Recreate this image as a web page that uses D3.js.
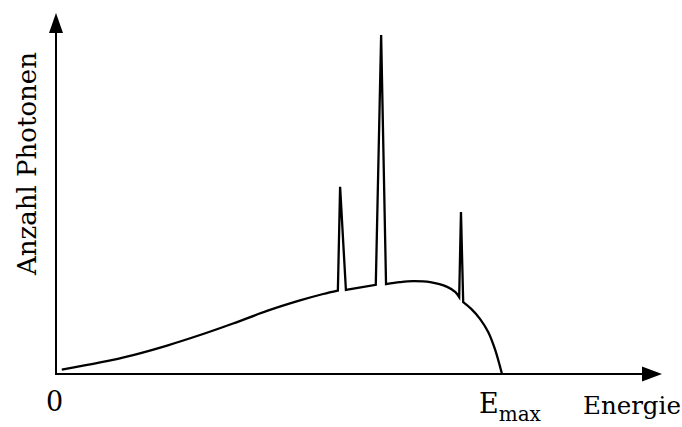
<!DOCTYPE html>
<html>
<head>
<meta charset="utf-8">
<script src="https://cdn.jsdelivr.net/npm/d3@7/dist/d3.min.js"></script>
<style>
  html, body { margin: 0; padding: 0; background: #fff; }
  svg { display: block; }
</style>
</head>
<body>
<svg id="chart" width="682" height="427"></svg>
<script>
// X-ray spectrum: bremsstrahlung continuum with three characteristic lines
const energies = [1.3, 9.9, 17.3, 24.9, 32.3, 39.7, 47.3, 54.7, 59.9, 63.2,
                  63.7, 65.0, 71.7, 72.9, 74.0, 77.1, 80.0, 83.9, 87.7, 89.5, 90.4,
                  90.8, 91.3, 93.1, 95.1, 96.9, 98.4, 100];
const counts   = [1.3, 3.4, 5.6, 8.4, 11.5, 14.9, 18.6, 21.7, 23.6, 24.6,
                  55.2, 24.8, 26.3, 100, 26.5, 27.1, 27.4, 27.1, 25.7, 24.2, 22.7,
                  47.8, 21.2, 19.2, 16.2, 12.4, 7.4, 0];
// energies of the characteristic lines (sharp spikes)
const lineEnergies = [63.7, 72.9, 90.8];

const xTicks = [0, 100];
const xTickLabels = ["0", "E"];
const xTickSubs = ["", "max"];
const xTitle = "Energie";
const yTitle = "Anzahl Photonen";

const FONT = "DejaVu Serif";

const svg = d3.select("#chart");
const x0 = 56, y0 = 374;                 // origin
const x = d3.scaleLinear().domain([0, 100]).range([x0, 502]);
const y = d3.scaleLinear().domain([0, 100]).range([y0, 35]);
const xAxisEnd = 662, yAxisEnd = 13;     // arrow tips

// axes with arrowheads
svg.append("line").attr("x1", x0).attr("y1", y0).attr("x2", xAxisEnd - 18).attr("y2", y0)
  .attr("stroke", "#000").attr("stroke-width", 2);
svg.append("line").attr("x1", x0).attr("y1", y0 + 1).attr("x2", x0).attr("y2", yAxisEnd + 18)
  .attr("stroke", "#000").attr("stroke-width", 2);
svg.append("path")
  .attr("d", `M${xAxisEnd},${y0} L${xAxisEnd - 20},${y0 - 7.5} L${xAxisEnd - 20},${y0 + 7.5} Z`)
  .attr("fill", "#000");
svg.append("path")
  .attr("d", `M${x0},${yAxisEnd} L${x0 - 7},${yAxisEnd + 20} L${x0 + 7},${yAxisEnd + 20} Z`)
  .attr("fill", "#000");

// spectrum: smooth continuum pieces joined by straight spikes
const pts = energies.map((e, i) => [e, counts[i]]);
const smooth = d3.line().x(d => x(d[0])).y(d => y(d[1])).curve(d3.curveCatmullRom.alpha(0.5));
let d = "";
let run = [];
pts.forEach((p) => {
  if (lineEnergies.includes(p[0])) {
    const s = smooth(run);
    d += d ? s.replace(/^M/, "L") : s;
    d += `L${x(p[0])},${y(p[1])}`;
    run = [];
  } else {
    run.push(p);
  }
});
if (run.length) {
  const s = smooth(run);
  d += d ? s.replace(/^M/, "L") : s;
}
svg.append("path")
  .attr("d", d)
  .attr("fill", "none")
  .attr("stroke", "#000")
  .attr("stroke-width", 2.3)
  .attr("stroke-linejoin", "miter")
  .attr("stroke-miterlimit", 10);

// tick labels
xTicks.forEach((v, i) => {
  const t = svg.append("text")
    .attr("font-family", FONT)
    .attr("font-size", 27);
  if (xTickSubs[i]) {
    t.attr("x", x(v) - 23).attr("y", 413).attr("text-anchor", "start");
    t.append("tspan").text(xTickLabels[i]);
    t.append("tspan").attr("dy", 8).attr("font-size", 20).text(xTickSubs[i]);
  } else {
    t.attr("x", x(v) - 1.5).attr("y", 411).attr("text-anchor", "middle").text(xTickLabels[i]);
  }
});

// axis titles
svg.append("text")
  .attr("font-family", FONT)
  .attr("font-size", 24.5)
  .attr("x", 583).attr("y", 414)
  .text(xTitle);

svg.append("text")
  .attr("font-family", FONT)
  .attr("font-size", 26)
  .attr("transform", "translate(36,163.5) rotate(-90)")
  .attr("text-anchor", "middle")
  .text(yTitle);
</script>
</body>
</html>
